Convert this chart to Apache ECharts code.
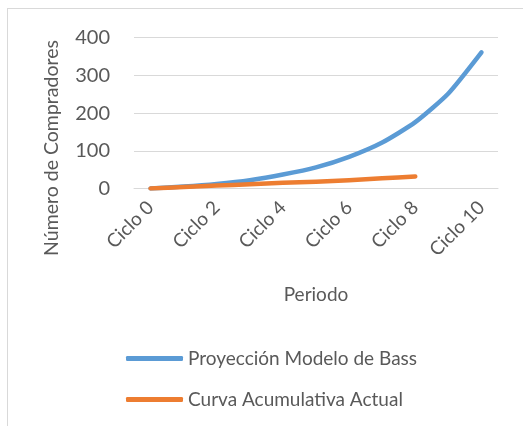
<!DOCTYPE html>
<html>
<head>
<meta charset="utf-8">
<script src="https://cdn.jsdelivr.net/npm/echarts@6/dist/echarts.min.js"></script>
<style>
html,body{margin:0;padding:0;background:#fff;}
#frame{position:absolute;left:7px;top:8px;width:540px;height:440px;border:1px solid #d9d9d9;box-sizing:border-box;}
#chart{position:absolute;left:0;top:0;width:523px;height:426px;}
</style>
</head>
<body>
<div id="frame"></div>
<div id="chart"></div>
<script>
const categories = ['Ciclo 0','Ciclo 1','Ciclo 2','Ciclo 3','Ciclo 4','Ciclo 5','Ciclo 6','Ciclo 7','Ciclo 8','Ciclo 9','Ciclo 10'];
const bassName = 'Proyección Modelo de Bass';
const actualName = 'Curva Acumulativa Actual';
const bassValues = [0, 5, 12, 22, 37, 56, 84, 122, 176, 252, 361];
const actualValues = [0, 4, 8, 11, 15, 18, 22, 27, 32];
const yMin = 0, yMax = 400, yStep = 100;
const yTitle = 'Número de Compradores';
const xTitle = 'Periodo';

const FONT = 'Lato';
const TXT = '#595959';
const chart = echarts.init(document.getElementById('chart'), null, {renderer:'canvas'});
chart.setOption({
  animation:false,
  backgroundColor:'transparent',
  textStyle:{fontFamily:FONT},
  grid:{left:134, right:25, top:37.7, bottom:237.5},
  xAxis:{
    type:'category', data:categories, boundaryGap:true,
    name:xTitle, nameLocation:'middle', nameGap:97,
    nameTextStyle:{color:TXT, fontSize:19, fontFamily:FONT},
    axisLine:{show:true, lineStyle:{color:'#d9d9d9', width:1}},
    axisTick:{show:false},
    axisLabel:{interval:1, rotate:45, margin:16, color:TXT, fontSize:19, fontFamily:FONT}
  },
  yAxis:{
    type:'value', min:yMin, max:yMax, interval:yStep,
    axisLine:{show:false}, axisTick:{show:false},
    axisLabel:{margin:24, color:TXT, fontSize:20, fontFamily:FONT},
    splitLine:{lineStyle:{color:'#d9d9d9', width:1}}
  },
  graphic:[{
    type:'text', x:52, y:148, rotation:Math.PI/2,
    style:{text:yTitle, fill:TXT, font:'19.5px '+FONT, textAlign:'center', textVerticalAlign:'middle'}
  }],
  legend:{
    orient:'vertical', left:121, top:343, itemWidth:57, itemHeight:5, itemGap:20,
    icon:'roundRect',
    textStyle:{color:TXT, fontSize:19, fontFamily:FONT, lineHeight:21},
    data:[bassName, actualName]
  },
  series:[
    {name:bassName, type:'line', data:bassValues, smooth:0.2, showSymbol:false, symbol:'none',
     color:'#5B9BD5', lineStyle:{width:4.5, color:'#5B9BD5', cap:'round', join:'round'}},
    {name:actualName, type:'line', data:actualValues, smooth:0.2, showSymbol:false, symbol:'none',
     color:'#ED7D31', lineStyle:{width:4.5, color:'#ED7D31', cap:'round', join:'round'}}
  ]
});
</script>
</body>
</html>
